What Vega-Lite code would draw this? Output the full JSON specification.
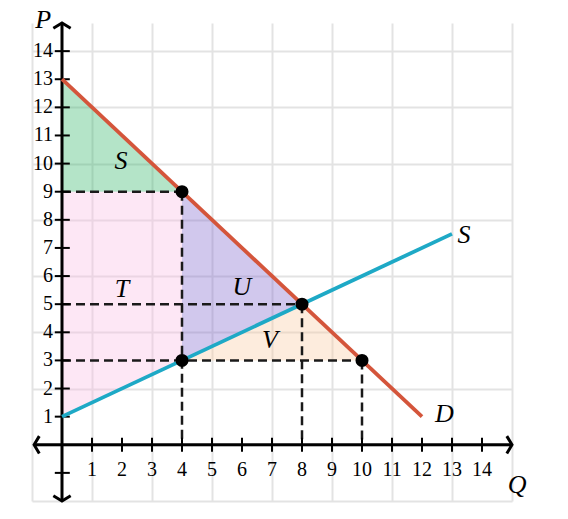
{
  "$schema": "https://vega.github.io/schema/vega-lite/v6.json",
  "autosize": {"type": "none"},
  "padding": {"left": 32, "top": 23, "right": 56, "bottom": 18},
  "width": 480,
  "height": 478,
  "config": {"view": {"stroke": null}},
  "resolve": {"scale": {"color": "independent", "shape": "independent"}},
  "datasets": {
    "areas": [
      {"region": "green", "x": 0, "y": 13, "y2": 9},
      {"region": "green", "x": 4, "y": 9, "y2": 9},
      {"region": "pink", "x": 0, "y": 1, "y2": 9},
      {"region": "pink", "x": 4, "y": 3, "y2": 9},
      {"region": "purple", "x": 4, "y": 3, "y2": 9},
      {"region": "purple", "x": 8, "y": 5, "y2": 5},
      {"region": "orange", "x": 4, "y": 3, "y2": 3},
      {"region": "orange", "x": 8, "y": 5, "y2": 3},
      {"region": "orange", "x": 10, "y": 3, "y2": 3}
    ],
    "curves": [
      {"name": "D", "x": 0, "y": 13},
      {"name": "D", "x": 12, "y": 1},
      {"name": "S", "x": 0, "y": 1},
      {"name": "S", "x": 13, "y": 7.5}
    ],
    "dashes": [
      {"x": 0, "y": 9, "x2": 4, "y2": 9},
      {"x": 4, "y": 9, "x2": 4, "y2": 0},
      {"x": 0, "y": 5, "x2": 8, "y2": 5},
      {"x": 8, "y": 5, "x2": 8, "y2": 0},
      {"x": 0, "y": 3, "x2": 10, "y2": 3},
      {"x": 10, "y": 3, "x2": 10, "y2": 0}
    ],
    "axes": [
      {"x": -0.93, "y": 0, "x2": 15, "y2": 0},
      {"x": 0, "y": -2, "x2": 0, "y2": 15}
    ],
    "arrows": [
      {"dir": "up", "x": 0, "y": 15},
      {"dir": "down", "x": 0, "y": -2},
      {"dir": "right", "x": 15, "y": 0},
      {"dir": "left", "x": -0.93, "y": 0}
    ],
    "xticks": [
      {"v": 1}, {"v": 2}, {"v": 3}, {"v": 4}, {"v": 5}, {"v": 6}, {"v": 7},
      {"v": 8}, {"v": 9}, {"v": 10}, {"v": 11}, {"v": 12}, {"v": 13}, {"v": 14}
    ],
    "yticks": [
      {"v": -1, "lab": ""}, {"v": 1, "lab": "1"}, {"v": 2, "lab": "2"}, {"v": 3, "lab": "3"},
      {"v": 4, "lab": "4"}, {"v": 5, "lab": "5"}, {"v": 6, "lab": "6"}, {"v": 7, "lab": "7"},
      {"v": 8, "lab": "8"}, {"v": 9, "lab": "9"}, {"v": 10, "lab": "10"}, {"v": 11, "lab": "11"},
      {"v": 12, "lab": "12"}, {"v": 13, "lab": "13"}, {"v": 14, "lab": "14"}
    ],
    "points": [
      {"x": 4, "y": 9}, {"x": 8, "y": 5}, {"x": 4, "y": 3}, {"x": 10, "y": 3}
    ],
    "letters": [
      {"t": "S", "x": 1.97, "y": 10.1},
      {"t": "T", "x": 2, "y": 5.55},
      {"t": "U", "x": 6, "y": 5.6},
      {"t": "V", "x": 6.93, "y": 3.74},
      {"t": "S", "x": 13.4, "y": 7.45},
      {"t": "D", "x": 12.75, "y": 1.1},
      {"t": "P", "x": -0.63, "y": 15.1},
      {"t": "Q", "x": 15.17, "y": -1.42}
    ]
  },
  "layer": [
    {
      "data": {"name": "areas"},
      "mark": {"type": "area", "fillOpacity": 0.35, "line": false},
      "encoding": {
        "x": {"field": "x", "type": "quantitative", "scale": {"domain": [-1, 15], "nice": false, "zero": false},
              "axis": {"values": [-1,0,1,2,3,4,5,6,7,8,9,10,11,12,13,14,15], "grid": true, "labels": false, "ticks": false, "domain": false, "title": null, "gridColor": "#e3e3e3", "gridWidth": 2, "gridOpacity": 1}},
        "y": {"field": "y", "type": "quantitative", "scale": {"domain": [-2, 15], "nice": false, "zero": false},
              "axis": {"values": [-2,-1,0,1,2,3,4,5,6,7,8,9,10,11,12,13,14,15], "grid": true, "labels": false, "ticks": false, "domain": false, "title": null, "gridColor": "#e3e3e3", "gridWidth": 2, "gridOpacity": 1}},
        "y2": {"field": "y2"},
        "color": {"field": "region", "type": "nominal", "legend": null,
                  "scale": {"domain": ["green", "pink", "purple", "orange"], "range": ["#29b262", "#f9bae2", "#7c60cc", "#f9c99e"]}},
        "detail": {"field": "region"}
      }
    },
    {
      "data": {"name": "dashes"},
      "mark": {"type": "rule", "color": "#1a1a1a", "strokeWidth": 2.5, "strokeDash": [9, 5]},
      "encoding": {
        "x": {"field": "x", "type": "quantitative"},
        "y": {"field": "y", "type": "quantitative"},
        "x2": {"field": "x2"},
        "y2": {"field": "y2"}
      }
    },
    {
      "data": {"name": "axes"},
      "mark": {"type": "rule", "color": "#000000", "strokeWidth": 3},
      "encoding": {
        "x": {"field": "x", "type": "quantitative"},
        "y": {"field": "y", "type": "quantitative"},
        "x2": {"field": "x2"},
        "y2": {"field": "y2"}
      }
    },
    {
      "data": {"name": "arrows"},
      "mark": {"type": "point", "filled": false, "strokeWidth": 3, "color": "#000000", "opacity": 1, "size": 300, "clip": false},
      "encoding": {
        "x": {"field": "x", "type": "quantitative"},
        "y": {"field": "y", "type": "quantitative"},
        "shape": {"field": "dir", "type": "nominal", "legend": null,
                  "scale": {"domain": ["up", "down", "right", "left"],
                            "range": ["M-1,0.6L0,0L1,0.6", "M-1,-0.6L0,0L1,-0.6", "M-0.6,-1L0,0L-0.6,1", "M0.6,-1L0,0L0.6,1"]}}
      }
    },
    {
      "data": {"name": "xticks"},
      "mark": {"type": "rule", "color": "#000000", "strokeWidth": 2},
      "encoding": {
        "x": {"field": "v", "type": "quantitative"},
        "y": {"datum": -0.25, "type": "quantitative"},
        "y2": {"datum": 0.25}
      }
    },
    {
      "data": {"name": "yticks"},
      "mark": {"type": "rule", "color": "#000000", "strokeWidth": 2},
      "encoding": {
        "y": {"field": "v", "type": "quantitative"},
        "x": {"datum": -0.24, "type": "quantitative"},
        "x2": {"datum": 0.26}
      }
    },
    {
      "data": {"name": "xticks"},
      "mark": {"type": "text", "font": "Liberation Serif", "fontSize": 20, "color": "#000000", "align": "center", "baseline": "middle"},
      "encoding": {
        "x": {"field": "v", "type": "quantitative"},
        "y": {"datum": -0.9, "type": "quantitative"},
        "text": {"field": "v", "type": "quantitative"}
      }
    },
    {
      "data": {"name": "yticks"},
      "mark": {"type": "text", "font": "Liberation Serif", "fontSize": 20, "color": "#000000", "align": "right", "baseline": "middle"},
      "encoding": {
        "y": {"field": "v", "type": "quantitative"},
        "x": {"datum": -0.3, "type": "quantitative"},
        "text": {"field": "lab", "type": "nominal"}
      }
    },
    {
      "data": {"name": "curves"},
      "mark": {"type": "line", "strokeWidth": 3.8},
      "encoding": {
        "x": {"field": "x", "type": "quantitative"},
        "y": {"field": "y", "type": "quantitative"},
        "detail": {"field": "name"},
        "color": {"field": "name", "type": "nominal", "legend": null,
                  "scale": {"domain": ["D", "S"], "range": ["#d4553b", "#1ea9c6"]}}
      }
    },
    {
      "data": {"name": "points"},
      "mark": {"type": "point", "filled": true, "color": "#000000", "opacity": 1, "size": 170},
      "encoding": {
        "x": {"field": "x", "type": "quantitative"},
        "y": {"field": "y", "type": "quantitative"}
      }
    },
    {
      "data": {"name": "letters"},
      "mark": {"type": "text", "font": "Liberation Serif", "fontStyle": "italic", "fontSize": 26, "color": "#000000", "align": "center", "baseline": "middle", "clip": false},
      "encoding": {
        "x": {"field": "x", "type": "quantitative"},
        "y": {"field": "y", "type": "quantitative"},
        "text": {"field": "t", "type": "nominal"}
      }
    }
  ]
}
